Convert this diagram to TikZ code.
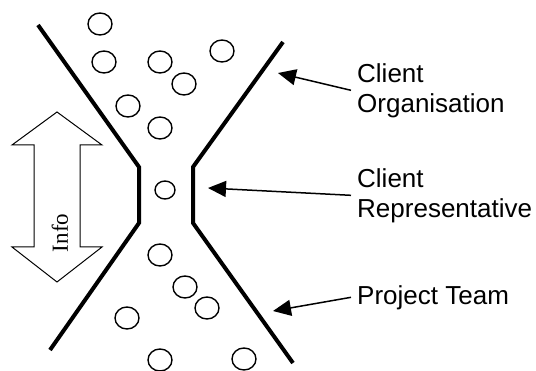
\documentclass[tikz,border=0pt]{standalone}
\usepackage{fontspec}
\setmainfont{Liberation Serif}
\setsansfont{Liberation Sans}
\usetikzlibrary{arrows.meta,shapes.geometric}
\begin{document}
\begin{tikzpicture}[x=1pt,y=-1pt,
  wall/.style={line width=4pt,line join=miter},
  person/.style={draw,line width=1.4pt,ellipse,minimum width=24pt,minimum height=22pt,inner sep=0pt},
  smallperson/.style={person,minimum width=20pt,minimum height=18pt},
  lbl/.style={font=\sffamily\fontsize{26}{30}\selectfont,align=left,inner xsep=6pt,inner ysep=0pt},
  pointer/.style={line width=1.5pt,-{Triangle[length=18pt,width=16pt]}},
  infoarrow/.style={draw,line width=1pt,line join=miter}]
\useasboundingbox (0,0) rectangle (536,371);
\fill[white] (0,0) rectangle (536,371);

% the two boundaries forming the narrow neck
\draw[wall] (38,25) -- (139,167) -- (139,223) -- (50,350);
\draw[wall] (283,42) -- (193,167) -- (193,223) -- (293,363);

% members of the client organisation (above) and project team (below)
\node[person] (c1) at (100,24) {};
\node[person] (c2) at (104,62) {};
\node[person] (c3) at (160,62) {};
\node[person] (c4) at (222,51) {};
\node[person] (c5) at (184,84) {};
\node[person] (c6) at (128,106) {};
\node[person] (c7) at (160,128) {};
\node[smallperson] (rep) at (165,190) {};
\node[person] (p1) at (160,255) {};
\node[person] (p2) at (185,287) {};
\node[person] (p3) at (207,308) {};
\node[person] (p4) at (127,318) {};
\node[person] (p5) at (160,360) {};
\node[person] (p6) at (244,359) {};

% double-headed information arrow
\draw[infoarrow] (57,112) -- (102,145) -- (80,145) -- (80,247) -- (102,247)
  -- (57,282) -- (12,247) -- (34,247) -- (34,145) -- (12,145) -- cycle;
\node[rotate=90,font=\fontsize{23}{23}\selectfont,inner sep=0pt] (info) at (60,233) {Info};

% labels and their pointers
\node[lbl,anchor=north west,inner xsep=0pt] (org) at (357,63) {Client\\Organisation};
\node[lbl,anchor=north west,inner xsep=0pt] (crep) at (357,168) {Client\\Representative};
\node[lbl,anchor=north west,inner xsep=0pt] (team) at (357,285) {Project Team};

\coordinate (orgtip) at (278,73);
\coordinate (reptip) at (208,188);
\coordinate (teamtip) at (273,311);

\draw[pointer] ([xshift=-6pt]org.west) -- (orgtip);
\draw[pointer] ([xshift=-6pt]crep.west) -- (reptip);
\draw[pointer] ([xshift=-6pt]team.west) -- (teamtip);
\end{tikzpicture}
\end{document}
